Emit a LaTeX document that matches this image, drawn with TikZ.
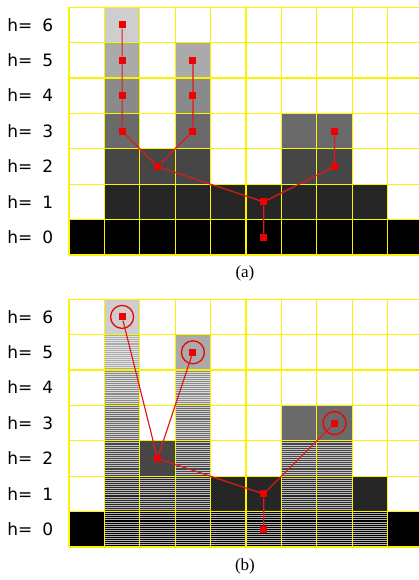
\documentclass[tikz,border=0pt]{standalone}
\usepackage{fontspec}
\setmainfont{Liberation Serif}
\newfontfamily\hfont{DejaVu Sans}
\usepackage{tikz}
\definecolor{gridyellow}{RGB}{248,244,0}
\definecolor{levelzero}{RGB}{0,0,0}
\definecolor{levelone}{RGB}{38,38,38}
\definecolor{leveltwo}{RGB}{70,70,70}
\definecolor{levelthree}{RGB}{106,106,106}
\definecolor{levelfour}{RGB}{138,138,138}
\definecolor{levelfive}{RGB}{170,170,170}
\definecolor{levelsix}{RGB}{206,206,206}
\definecolor{markred}{RGB}{240,0,0}
\definecolor{linkred}{RGB}{228,24,24}

\begin{document}
\begin{tikzpicture}[
    cellgrid/.style={draw=gridyellow, line width=1.3pt, step=35.4pt},
    stripe/.style={draw=white, opacity=0.7, line width=0.9pt},
    knot/.style={rectangle, fill=markred, minimum size=7pt, inner sep=0pt},
    ring/.style={circle, draw=markred, line width=1.3pt, minimum size=23pt, inner sep=0pt},
    link/.style={draw=linkred, line width=1.2pt},
    hlabel/.style={font=\hfont\fontsize{17}{17}\selectfont, anchor=base west, inner sep=0pt},
    caption/.style={font=\fontsize{17}{17}\selectfont, inner sep=0pt}
]
\useasboundingbox (0,0) rectangle (419pt,580pt);

% (a) height map
\begin{scope}[shift={(69pt,325pt)}, x=35.4pt, y=35.4pt]
\foreach \c in {0,...,9} \fill[levelzero] (\c,0) rectangle ++(1,1);
\foreach \c/\r/\s in {1/1/levelone, 2/1/levelone, 3/1/levelone, 4/1/levelone,
    5/1/levelone, 6/1/levelone, 7/1/levelone, 8/1/levelone,
    1/2/leveltwo, 2/2/leveltwo, 3/2/leveltwo, 6/2/leveltwo, 7/2/leveltwo,
    1/3/levelthree, 3/3/levelthree, 6/3/levelthree, 7/3/levelthree,
    1/4/levelfour, 3/4/levelfour, 1/5/levelfive, 3/5/levelfive, 1/6/levelsix}
    \fill[\s] (\c,\r) rectangle ++(1,1);
\draw[cellgrid] (0,0) grid (10,7);

\foreach \h in {0,...,6}
    \node[hlabel] (ha\h) at (-1.75,{\h+0.325}) {h=\hspace{10pt}\h};

% tree
\node[knot] (a16) at (1.5,6.5) {};
\node[knot] (a15) at (1.5,5.5) {};
\node[knot] (a14) at (1.5,4.5) {};
\node[knot] (a13) at (1.5,3.5) {};
\node[knot] (a35) at (3.5,5.5) {};
\node[knot] (a34) at (3.5,4.5) {};
\node[knot] (a33) at (3.5,3.5) {};
\node[knot] (a22) at (2.5,2.5) {};
\node[knot] (a51) at (5.5,1.5) {};
\node[knot] (a50) at (5.5,0.5) {};
\node[knot] (a73) at (7.5,3.5) {};
\node[knot] (a72) at (7.5,2.5) {};

\draw[link] (a16) -- (a15) -- (a14) -- (a13) -- (a22);
\draw[link] (a35) -- (a34) -- (a33) -- (a22);
\draw[link] (a22) -- (a51) -- (a50);
\draw[link] (a73) -- (a72) -- (a51);

\node[caption] (capa) at (4.97,-0.51) {(a)};
\end{scope}

% (b) filtered map
\begin{scope}[shift={(69pt,33pt)}, x=35.4pt, y=35.4pt]
\foreach \c/\r/\s in {0/0/levelzero, 9/0/levelzero,
    4/1/levelone, 5/1/levelone, 8/1/levelone, 2/2/leveltwo,
    6/3/levelthree, 7/3/levelthree, 3/5/levelfive, 1/6/levelsix}
    \fill[\s] (\c,\r) rectangle ++(1,1);
% striped cells
\foreach \c/\r/\s in {1/0/levelzero, 2/0/levelzero, 3/0/levelzero, 4/0/levelzero,
    5/0/levelzero, 6/0/levelzero, 7/0/levelzero, 8/0/levelzero,
    1/1/levelone, 2/1/levelone, 3/1/levelone, 6/1/levelone, 7/1/levelone,
    1/2/leveltwo, 3/2/leveltwo, 6/2/leveltwo, 7/2/leveltwo,
    1/3/levelthree, 3/3/levelthree, 1/4/levelfour, 3/4/levelfour, 1/5/levelfive} {
    \fill[\s] (\c,\r) rectangle ++(1,1);
    \foreach \k in {1,...,16}
        \draw[stripe] (\c,{\r+\k/17}) -- ++(1,0);
}
\draw[cellgrid] (0,0) grid (10,7);

\foreach \h in {0,...,6}
    \node[hlabel] (hb\h) at (-1.75,{\h+0.325}) {h=\hspace{10pt}\h};

% tree
\node[knot] (b16) at (1.5,6.5) {};
\node[knot] (b35) at (3.5,5.5) {};
\node[knot] (b22) at (2.5,2.5) {};
\node[knot] (b51) at (5.5,1.5) {};
\node[knot] (b50) at (5.5,0.5) {};
\node[knot] (b73) at (7.5,3.5) {};
\node[ring] (c16) at (b16) {};
\node[ring] (c35) at (b35) {};
\node[ring] (c73) at (b73) {};

\draw[link] (b16) -- (b22);
\draw[link] (b35) -- (b22);
\draw[link] (b22) -- (b51) -- (b50);
\draw[link] (b73) -- (b51);

\node[caption] (capb) at (4.97,-0.54) {(b)};
\end{scope}
\end{tikzpicture}
\end{document}
